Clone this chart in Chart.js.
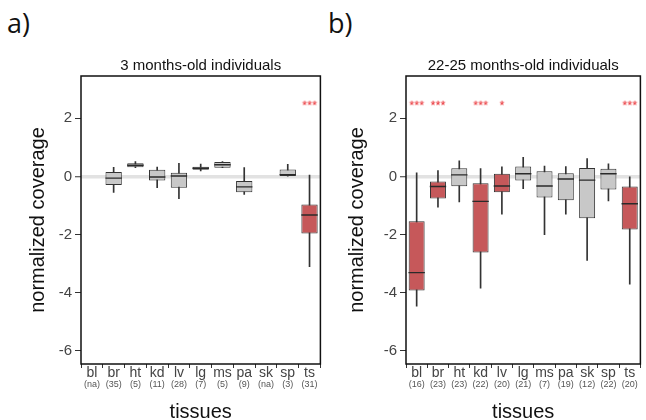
<!DOCTYPE html>
<html>
<head>
<meta charset="utf-8">
<script src="https://cdn.jsdelivr.net/npm/chart.js@4"></script>
<style>
    body { margin: 0; width: 646px; height: 420px; overflow: hidden; background: #fff; position: relative; }
    canvas { position: absolute; top: 0; }
    #chartA { left: 0; }
    #chartB { left: 330px; }
    .panel { position: absolute; top: 4px; font-family: "Open Sans", sans-serif; font-size: 27px; color: #111; }
</style>
</head>
<body>
<div class="panel" style="left:7px">a)</div>
<div class="panel" style="left:328px">b)</div>
<canvas id="chartA" width="330" height="420"></canvas>
<canvas id="chartB" width="320" height="420"></canvas>
<script>
const tissues = ['bl', 'br', 'ht', 'kd', 'lv', 'lg', 'ms', 'pa', 'sk', 'sp', 'ts'];
const yTicks = [-6, -4, -2, 0, 2];

// 3 months-old
const countsA = ['(na)', '(35)', '(5)', '(11)', '(28)', '(7)', '(5)', '(9)', '(na)', '(3)', '(31)'];
const minA = [null, -0.55, 0.30, -0.39, -0.77, 0.19, 0.30, -0.62, null, 0.01, -3.10];
const q1A  = [null, -0.30, 0.31, -0.14, -0.39, 0.23, 0.30, -0.55, null, 0.01, -1.96];
const medA = [null, -0.06, 0.38, -0.02, 0.01, 0.28, 0.40, -0.36, null, 0.06, -1.33];
const q3A  = [null, 0.15, 0.45, 0.23, 0.12, 0.33, 0.49, -0.16, null, 0.24, -0.97];
const maxA = [null, 0.31, 0.51, 0.32, 0.45, 0.42, 0.51, 0.30, null, 0.41, 0.04];
const sigA = ['', '', '', '', '', '', '', '', '', '', '***'];

// 22-25 months-old
const countsB = ['(16)', '(23)', '(23)', '(22)', '(20)', '(21)', '(7)', '(19)', '(12)', '(22)', '(20)'];
const minB = [-4.46, -1.06, -0.88, -3.84, -1.30, -0.42, -2.00, -1.30, -2.89, -0.84, -3.71];
const q1B  = [-3.92, -0.76, -0.34, -2.62, -0.55, -0.14, -0.73, -0.82, -1.44, -0.45, -1.83];
const medB = [-3.31, -0.35, 0.05, -0.86, -0.33, 0.09, -0.33, -0.09, -0.13, 0.09, -0.94];
const q3B  = [-1.54, -0.18, 0.28, -0.24, 0.09, 0.34, 0.18, 0.11, 0.29, 0.26, -0.35];
const maxB = [0.12, 0.20, 0.53, 0.27, 0.33, 0.65, 0.35, 0.34, 0.61, 0.43, -0.02];
const sigB = ['***', '***', '', '***', '*', '', '', '', '', '', '***'];

const starLevel = 2.5;

const makeStar = (text) => {
    let c = document.createElement('canvas');
    c.width = 30;
    c.height = 14;
    let g = c.getContext('2d');
    g.fillStyle = '#e8262b';
    g.font = '13px "Liberation Sans"';
    g.textAlign = 'center';
    g.textBaseline = 'middle';
    g.fillText(text, 15, 9);
    return c;
}

const framePlugin = {
    id: 'frame',
    afterLayout(chart) {
        // pull the counts row up under the tissue names
        chart.scales.x2.top -= 5;
    },
    afterDatasetsDraw(chart) {
        const a = chart.chartArea;
        const ctx = chart.ctx;
        ctx.save();
        ctx.strokeStyle = '#111';
        ctx.lineWidth = 1.5;
        ctx.strokeRect(a.left, a.top, a.right - a.left, a.bottom - a.top);
        ctx.restore();
    }
};

const initChart = (id, title, counts, mins, q1s, meds, q3s, maxs, sigs, pad, yWidth) => {
    const boxColors = sigs.map(s => s ? '#c6585a' : '#c8c8c8');
    return new Chart(document.getElementById(id), {
        type: 'bar',
        data: {
            labels: tissues,
            datasets: [
                {
                    // medians
                    type: 'line',
                    data: meds,
                    showLine: false,
                    pointStyle: 'line',
                    pointRadius: 8.2,
                    pointBorderColor: '#2a2a2a',
                    pointBorderWidth: 1.4,
                    order: 0
                },
                {
                    // significance stars
                    type: 'line',
                    data: sigs.map(s => s ? starLevel : null),
                    showLine: false,
                    pointStyle: sigs.map(s => s ? makeStar(s) : 'circle'),
                    pointRadius: 5,
                    order: 0
                },
                {
                    // boxes
                    data: q1s.map((v, i) => v === null ? null : [v, q3s[i]]),
                    backgroundColor: boxColors,
                    borderColor: '#333',
                    borderWidth: 1,
                    borderSkipped: false,
                    grouped: false,
                    barPercentage: 0.75,
                    categoryPercentage: 1,
                    order: 1
                },
                {
                    // whiskers
                    data: mins.map((v, i) => v === null ? null : [v, maxs[i]]),
                    backgroundColor: '#333',
                    barThickness: 1,
                    grouped: false,
                    order: 2
                }
            ]
        },
        options: {
            responsive: false,
            animation: false,
            layout: { padding: { left: pad.left, right: pad.right, top: 57, bottom: 0 } },
            plugins: {
                legend: { display: false },
                tooltip: { enabled: false },
                title: {
                    display: true,
                    text: title,
                    fullSize: false,
                    color: '#111',
                    font: { family: 'Liberation Sans', size: 15, weight: 'normal' },
                    padding: { top: 0, bottom: 1 }
                }
            },
            scales: {
                x: {
                    type: 'category',
                    offset: true,
                    grid: { display: true, drawOnChartArea: false, tickLength: 4, tickColor: '#333' },
                    border: { display: false },
                    ticks: { color: '#444', padding: -3, autoSkip: false, maxRotation: 0,
                        font: { family: 'Liberation Sans', size: 14 } },
                    afterFit: (s) => { s.height = 20; }
                },
                x2: {
                    type: 'category',
                    labels: counts,
                    position: 'bottom',
                    offset: true,
                    grid: { display: false, drawTicks: false, tickLength: 0 },
                    border: { display: false },
                    ticks: { color: '#555', padding: 0, autoSkip: false, maxRotation: 0,
                        font: { family: 'Liberation Sans', size: 9 } },
                    title: { display: true, text: 'tissues', color: '#111',
                        font: { family: 'Liberation Sans', size: 20 }, padding: { top: -4, bottom: -4 } },
                    afterFit: (s) => { s.height = 36; }
                },
                y: {
                    min: -6.45,
                    max: 3.45,
                    afterBuildTicks: (s) => { s.ticks = yTicks.map(v => ({ value: v })); },
                    grid: {
                        color: (c) => c.tick && c.tick.value === 0 ? '#e2e2e2' : 'rgba(0,0,0,0)',
                        lineWidth: (c) => c.tick && c.tick.value === 0 ? 3.5 : 1,
                        tickColor: '#333',
                        tickWidth: 1,
                        tickLength: 6
                    },
                    border: { display: false },
                    ticks: { color: '#444', padding: 3, font: { family: 'Liberation Sans', size: 15 } },
                    title: { display: true, text: 'normalized coverage', color: '#111',
                        font: { family: 'Liberation Sans', size: 20 }, padding: { top: 0, bottom: 0 } },
                    afterFit: (s) => { s.width = yWidth; }
                }
            }
        },
        plugins: [framePlugin]
    });
}

initChart('chartA', '3 months-old individuals', countsA, minA, q1A, medA, q3A, maxA, sigA, { left: 26, right: 6 }, 55);
initChart('chartB', '22-25 months-old individuals', countsB, minB, q1B, medB, q3B, maxB, sigB, { left: 15, right: 3 }, 61);
</script>
</body>
</html>
